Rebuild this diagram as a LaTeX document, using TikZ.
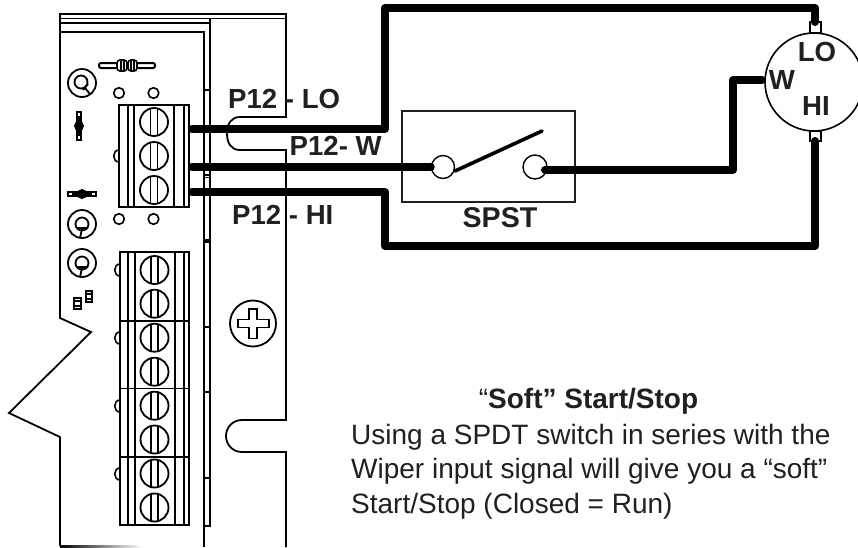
\documentclass[tikz,border=0pt]{standalone}
\usepackage{fontspec}
\setmainfont{Liberation Sans}
\definecolor{ink}{HTML}{231F20}
\tikzset{
 board/.style={draw=black,line width=1.8pt,line join=miter},
 fineline/.style={draw=black,line width=1.6pt},
 wire/.style={draw=black,line width=8pt,line cap=round,line join=round},
 lbl/.style={font=\bfseries\fontsize{27.6}{30}\selectfont,text=ink,inner sep=0pt},
 body/.style={font=\fontsize{28}{34.5}\selectfont,text=ink,inner sep=0pt,align=left,anchor=north west},
}
\newcommand{\screwat}[2]{%
  \draw[fineline,line width=1.8pt] (#1,#2) circle[radius=14];
  \draw[fineline,line width=1.8pt] (#1-3.5,#2-14)--(#1-3.5,#2+14) (#1+3.5,#2-14)--(#1+3.5,#2+14);}
\newcommand{\potat}[3]{%
  \draw[board] (#1,#2) circle[radius=14];
  \draw[board] (#1,#2) circle[radius=6.5];
  \draw[board] (#1-6,#2+4)--(#1+#3,#2+4) (#1,#2+5)--(#1-2,#2+14);}
\begin{document}
\begin{tikzpicture}[x=1pt,y=-1pt]
\useasboundingbox (0,0) rectangle (858,547);
\fill[white] (0,0) rectangle (858,547);
% board outline
\draw[board] (60,546)--(60,437)--(9,413)--(91,332)--(60,318)--(60,14)--(286,14)--(286,117)--(240,117)
  .. controls (231,117) and (227,124) .. (227,133.5) .. controls (227,143) and (231,150) .. (240,150)
  --(286,150)--(286,420)--(242,420)
  .. controls (233,420) and (226,427) .. (226,436) .. controls (226,445) and (233,452) .. (242,452)
  --(286,452)--(286,547);
\draw[line width=1.1pt] (60,18.5)--(286,18.5);
\draw[board] (60,23)--(210,23);
\draw[board] (60,32)--(204,32)--(204,547);
\draw[board] (210,18.5)--(210,526)--(204,526);
\foreach \yy in {90,175,177.5,240,242,327,392,478}{\draw[line width=1.2pt] (204,\yy)--(210,\yy);}
\shade[left color=black,right color=white] (60,545.4) rectangle (142,547);
% top terminal block
\draw[fineline,line width=1.8pt] (119,105) rectangle (189,207);
\foreach \xx in {128,134,174,184}{\draw[fineline,line width=1.8pt] (\xx,105)--(\xx,207);}
\foreach \yy in {122,156,190}{\screwat{154}{\yy}}
\draw[fineline] (119,150) .. controls (112,150) and (112,162) .. (119,162);
% bottom terminal block
\draw[fineline,line width=1.8pt] (120,252) rectangle (189,525);
\foreach \xx in {128,135,175,184}{\draw[fineline,line width=1.8pt] (\xx,252)--(\xx,525);}
\foreach \yy in {321,388.5,457}{\draw[fineline,line width=1.8pt] (120,\yy)--(189,\yy);}
\foreach \yy in {270,303.7,337.7,371.7,405.7,439.5,473.5,507.5}{\screwat{154.5}{\yy}}
\foreach \yy in {270,338,406,474}{\draw[fineline] (120,\yy-6) .. controls (113,\yy-6) and (113,\yy+6) .. (120,\yy+6);}
% small holes
\foreach \xx/\yy in {119/93,153.5/93,119/219,153.5/219}{\draw[fineline] (\xx,\yy) circle[radius=5.3];}
% pots
\draw[board] (82,83) circle[radius=14];
\draw[board] (81,82) circle[radius=6.5];
\draw[board] (83,90)--(88,84) (85,88)--(90,94);
\potat{82}{224}{6}
\potat{82}{263}{6}
% resistor
\draw[line width=2pt,fill=white,rounded corners=2pt] (99,63)rectangle(155,68);
\draw[line width=1.6pt,fill=white,rounded corners=3pt] (117,60)rectangle(127,71);
\draw[line width=1.6pt,fill=white,rounded corners=3pt] (128,60)rectangle(137,71);
\draw[line width=1.4pt] (121,60)--(121,71) (124,60)--(124,71) (131,60)--(131,71) (134,60)--(134,71);
% diode vertical
\draw[line width=1.4pt,fill=white] (77,112)rectangle(81,140);
\fill (79,126) circle[radius=5];
\fill (77.5,116)rectangle(80.5,136);
% diode horizontal
\draw[line width=1.4pt,fill=white] (68,192)rectangle(96,196);
\fill (82,194) circle[radius=5];
\fill (72,192.5)rectangle(92,195.5);
% small parts
\draw[line width=1.6pt,fill=white] (74,298)rectangle(81,309);
\draw[line width=1.6pt,fill=white] (86,291)rectangle(92,302);
\draw[line width=1.2pt] (74,301)--(81,301) (74,306)--(81,306) (86,294)--(92,294) (86,299)--(92,299);
% phillips screw
\draw[fineline,line width=1.8pt] (253,323.5) circle[radius=23];
\draw[fineline,line width=1.8pt] (249,309)--(257,309)--(257,319.5)--(269,319.5)--(269,327.5)--(257,327.5)--(257,338.5)--(249,338.5)--(249,327.5)--(238,327.5)--(238,319.5)--(249,319.5)--cycle;
% switch
\draw[line width=1.3pt,draw=ink] (402,111) rectangle (575,202);
\node[circle,draw=black,line width=1.4pt,fill=white,minimum size=23pt,inner sep=0pt] (swA) at (443,167) {};
\node[circle,draw=black,line width=1.4pt,fill=white,minimum size=24pt,inner sep=0pt] (swB) at (535,167) {};
\coordinate (bladeEnd) at (542,131);
\draw[line width=3.6pt,line cap=round] (455,171)--(bladeEnd);
% motor
\node[circle,draw=black,line width=1.6pt,fill=white,minimum size=98pt,inner sep=0pt] (motor) at (814,82) {};
\node[rectangle,draw=black,line width=1.4pt,fill=white,minimum width=11pt,minimum height=11pt,inner sep=0pt] (termLo) at (815.5,27.5) {};
\node[rectangle,draw=black,line width=1.4pt,fill=white,minimum width=11pt,minimum height=10pt,inner sep=0pt] (termHi) at (815.5,136) {};
% wire ends
\coordinate (outLo) at (192,129);
\coordinate (outW) at (192,167);
\coordinate (outHi) at (192,192);
\coordinate (motorW) at (762,80);
\draw[wire] (outLo)--(385,129)--(385,8)--(815,8)--(815,22);
\draw[wire] (outW)--(swA.west);
\draw[wire] (outHi)--(385,192)--(385,246)--(815,246)--(815,141);
\draw[wire] (545,170)--(733,170)--(733,80)--(motorW);
% labels
\node[lbl,anchor=base west] (lloA) at (228,108) {P12 - LO};
\node[lbl,anchor=base west] (lwA) at (289.5,155) {P12- W};
\node[lbl,anchor=base west] (lhiA) at (232,224) {P12 - HI};
\node[lbl,font=\bfseries\fontsize{28.6}{30}\selectfont] (spst) at (500,218) {SPST};
\node[lbl] (mlo) at (817,52) {LO};
\node[lbl] (mw) at (782,80) {W};
\node[lbl] (mhi) at (816,106) {HI};
\node[body,anchor=base] (title) at (588.5,408) {“\textbf{Soft” Start/Stop}};
\node[body,anchor=base west] (t1) at (351,444) {Using a SPDT switch in series with the};
\node[body,anchor=base west] (t2) at (351,478) {Wiper input signal will give you a “soft”};
\node[body,anchor=base west] (t3) at (351,513) {Start/Stop (Closed = Run)};
\end{tikzpicture}
\end{document}
